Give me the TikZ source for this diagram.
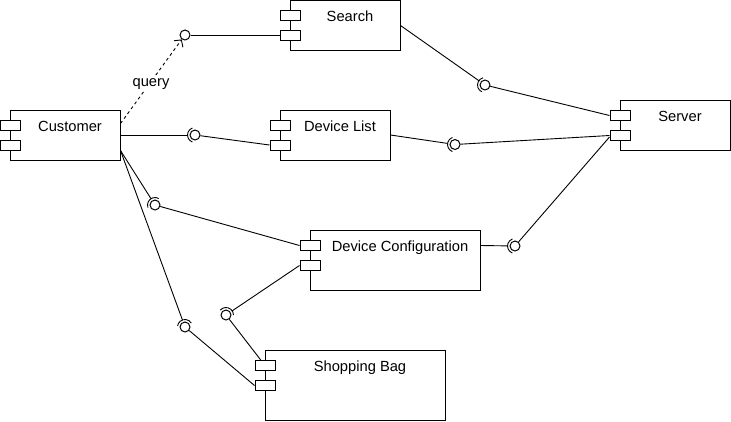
\documentclass[tikz,border=0pt]{standalone}
\usepackage{fontspec}
\setmainfont{Liberation Sans}
\usetikzlibrary{arrows.meta,calc}
\newcommand{\socket}[2]{\draw[wire] ([shift={({#2-70}:7.5)}]#1.center) arc[start angle={#2-70}, end angle={#2+70}, radius=7.5];}
\begin{document}
\begin{tikzpicture}[x=1pt,y=-1pt,
  comp/.style={draw, rectangle, fill=white, inner sep=0pt, line width=1pt},
  port/.style={draw, rectangle, fill=white, inner sep=0pt, line width=1pt, minimum width=20pt, minimum height=10pt},
  ttl/.style={anchor=base, inner sep=0pt, font=\fontsize{14.7}{17}\selectfont},
  ball/.style={draw, circle, fill=white, minimum size=10pt, inner sep=0pt, line width=1pt},
  wire/.style={draw, line width=0.9pt},
  sockline/.style={wire, shorten >=7.5pt},
]
\useasboundingbox (0,0) rectangle (731,421);

% components
\node[comp, minimum width=110pt, minimum height=50pt] (cust) at (65,135) {};
\node[port] (custP1) at (10,125) {};
\node[port] (custP2) at (10,145) {};
\node[ttl] (custT) at (70,131.5) {Customer};

\node[comp, minimum width=110pt, minimum height=49.5pt] (srch) at (345,25.25) {};
\node[port] (srchP1) at (290,15) {};
\node[port] (srchP2) at (290,35) {};
\node[ttl] (srchT) at (350,21) {Search};

\node[comp, minimum width=110pt, minimum height=50pt] (dl) at (335,135) {};
\node[port] (dlP1) at (280,125) {};
\node[port] (dlP2) at (280,145) {};
\node[ttl] (dlT) at (340,131.5) {Device List};

\node[comp, minimum width=110pt, minimum height=50pt] (srv) at (675,125.5) {};
\node[port] (srvP1) at (620,115.5) {};
\node[port] (srvP2) at (620,135.5) {};
\node[ttl] (srvT) at (680,121.5) {Server};

\node[comp, minimum width=170pt, minimum height=60pt] (dc) at (395,260.5) {};
\node[port] (dcP1) at (310,245.5) {};
\node[port] (dcP2) at (310,265.5) {};
\node[ttl] (dcT) at (400,251.5) {Device Configuration};

\node[comp, minimum width=180pt, minimum height=69.5pt] (sb) at (355,385.25) {};
\node[port] (sbP1) at (265,365.5) {};
\node[port] (sbP2) at (265,385.5) {};
\node[ttl] (sbT) at (360,371.5) {Shopping Bag};

% interface balls
\node[ball] (bQ) at (185,35) {};
\node[ball] (bDL) at (195,135) {};
\node[ball] (bSS) at (485,85) {};
\node[ball] (bDLS) at (455,144.5) {};
\node[ball] (bDCS) at (515,246) {};
\node[ball] (bCDC) at (155,205) {};
\node[ball] (bCSB) at (185,327) {};
\node[ball] (bDCSB) at (226,315) {};

% sockets
\socket{bDL}{180}
\socket{bSS}{185}
\socket{bDLS}{180}
\socket{bDCS}{180}
\socket{bCDC}{230}
\socket{bCSB}{258}
\socket{bDCSB}{290}

% query dependency
\draw[wire, dash pattern=on 3pt off 3pt, -{Straight Barb[length=5pt,width=11pt]}] ($(cust.north east)+(0,14)$) -- (bQ);
\node[ttl, fill=white, inner sep=1.5pt] (qlbl) at (151,86) {query};

% connectors
\draw[wire] (bQ) -- (srchP2.west);
\draw[sockline] (cust.east) -- (bDL.center);
\draw[wire] (bDL) -- (dlP2.west);
\draw[sockline] ($(srch.north east)+(0,25.5)$) -- (bSS.center);
\draw[wire] (bSS) -- (srvP1.west);
\draw[sockline] (dl.east) -- (bDLS.center);
\draw[wire] (bDLS) -- (srvP2.west);
\draw[sockline] ($(dc.north east)+(0,15.5)$) -- (bDCS.center);
\draw[wire] (bDCS) -- ($(srvP2.west)+(0,1.5)$);
\draw[sockline] ($(cust.south east)+(0,-10)$) -- (bCDC.center);
\draw[wire] (bCDC) -- (dcP1.west);
\draw[sockline] ($(cust.south east)+(0,-10)$) -- (bCSB.center);
\draw[wire] (bCSB) -- (sbP2.west);
\draw[sockline] (dcP2.west) -- (bDCSB.center);
\draw[wire] (bDCSB) -- (sbP1);
\end{tikzpicture}
\end{document}
